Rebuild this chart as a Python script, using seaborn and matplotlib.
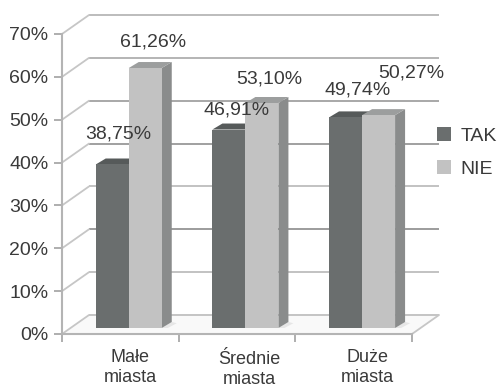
import matplotlib
matplotlib.use("Agg")
import matplotlib.pyplot as plt
from matplotlib.patches import Polygon
import pandas as pd
import seaborn as sns

cities = ["Małe\nmiasta", "Średnie\nmiasta", "Duże\nmiasta"]
tak = [38.75, 46.91, 49.74]
nie = [61.26, 53.10, 50.27]
series_names = ["TAK", "NIE"]
y_ticks = [0, 10, 20, 30, 40, 50, 60, 70]

W, H = 498, 388
sns.set_theme(style="white")
plt.rcParams["font.family"] = ["Liberation Sans", "DejaVu Sans"]
TEXT = "#3a3a3a"
FS = 14

fig = plt.figure(figsize=(W / 100, H / 100), dpi=100, facecolor="white")
ax = fig.add_axes([62 / W, (H - 334) / H, 350 / W, 300 / H])

df = pd.DataFrame({
    "miasto": cities * 2,
    "odp": [series_names[0]] * 3 + [series_names[1]] * 3,
    "v": tak + nie,
})
colors = {"TAK": "#6a6e6e", "NIE": "#c2c2c2"}
sns.barplot(data=df, x="miasto", y="v", hue="odp", hue_order=series_names,
            palette=colors, saturation=1, width=0.566, gap=0, dodge=True,
            linewidth=0, zorder=3, ax=ax)
ax.set_xlim(-0.5, 2.5)
ax.set_ylim(0, 70)
ax.set_xlabel("")
ax.set_ylabel("")
ax.patch.set_alpha(0)

# Unit sizes for the pseudo-3D projection
px_x = 3 / 350
px_y = 70 / 300
wall_dx, wall_dy = 27 * px_x, 19 * px_y
bar_dx, bar_dy = 10 * px_x, 6 * px_y
bar_base, bar_lift, bar_shift = 1.4, 0.8, 0.072

# Floor and back wall
ax.add_patch(Polygon([(-0.5, 0), (2.5, 0), (2.5 + wall_dx, wall_dy), (-0.5 + wall_dx, wall_dy)],
                     closed=True, fc="#f9f9f9", ec="none", zorder=0.5, clip_on=False))
wall_colors = {10: "#c2c2c2", 20: "#9c9c9c", 30: "#c2c2c2", 40: "#a0a0a0", 50: "#a8a8a8",
               60: "#b4b4b4", 70: "#bcbcbc", 0: "#c4c4c4"}
for t in y_ticks:
    ax.plot([-0.5 + wall_dx, 2.5 + wall_dx], [t + wall_dy] * 2, color=wall_colors[t],
            lw=1.4, zorder=1, clip_on=False, solid_capstyle="butt")
    ax.plot([-0.5, -0.5 + wall_dx], [t, t + wall_dy], color="#c6c6c6", lw=1.3,
            zorder=1, clip_on=False)
ax.plot([2.5, 2.5 + wall_dx], [0, wall_dy], color="#c6c6c6", lw=1.3, zorder=1, clip_on=False)

# Side and top faces for every bar
faces = {"TAK": ("#666a6a", "#565a5a"), "NIE": ("#8a8c8c", "#9c9e9e")}
z_by_series = {"TAK": 3, "NIE": 4}
for name, container in zip(series_names, ax.containers):
    side_c, top_c = faces[name]
    z = z_by_series[name]
    for bar in container:
        value = bar.get_height()
        bar.set_x(bar.get_x() + bar_shift)
        bar.set_y(bar_base)
        bar.set_height(value + bar_lift - bar_base)
        bar.set_zorder(z)
        x0, x1 = bar.get_x(), bar.get_x() + bar.get_width()
        top = value + bar_lift
        ax.add_patch(Polygon([(x1, bar_base), (x1 + bar_dx, bar_base + bar_dy),
                              (x1 + bar_dx, top + bar_dy), (x1, top)],
                             closed=True, fc=side_c, ec="none", zorder=z - 0.2))
        ax.add_patch(Polygon([(x0, top), (x1, top), (x1 + bar_dx, top + bar_dy),
                              (x0 + bar_dx, top + bar_dy)],
                             closed=True, fc=top_c, ec="none", zorder=z - 0.1))
        # Soft shadow on the floor beside the bar
        ax.add_patch(Polygon([(x1, bar_base), (x1 + bar_dx, bar_base + bar_dy),
                              (x1 + 1.5 * bar_dx, bar_base + 0.8 * bar_dy), (x1 + 0.6 * bar_dx, bar_base)],
                             closed=True, fc="#e6e6e6", ec="none", zorder=1.5))

# Value labels with decimal commas
label_offsets = {
    "TAK": [(6.5, 30), (7.5, 20), (12.5, 27)],
    "NIE": [(7.5, 26), (7.5, 24), (33, 42)],
}
for name, container, vals in zip(series_names, ax.containers, (tak, nie)):
    for bar, val, off in zip(container, vals, label_offsets[name]):
        ax.annotate(f"{val:.2f}%".replace(".", ","),
                    (bar.get_x() + bar.get_width() / 2, val + bar_lift),
                    xytext=off, textcoords="offset pixels", ha="center", va="center",
                    fontsize=FS, color=TEXT, zorder=6, annotation_clip=False)

# Axes frame
for s in ("top", "right"):
    ax.spines[s].set_visible(False)
for s in ("left", "bottom"):
    ax.spines[s].set_color("#b4b4b4")
    ax.spines[s].set_linewidth(1.5)
ax.set_yticks(y_ticks)
ax.set_yticklabels([f"{t}%" for t in y_ticks], fontsize=FS, color=TEXT)
ax.tick_params(axis="y", left=True, length=5.8, width=1.3, color="#a8a8a8", pad=4)
ax.set_xticks([-0.5, 0.5, 1.5, 2.5])
ax.set_xticklabels([])
ax.tick_params(axis="x", bottom=True, length=5.8, width=1.3, color="#a8a8a8")

# Category names sit under the bars rather than on the tick marks
label_dx = [10, 12, 14]
label_first = [-24, -26, -24]
label_second = [-44, -45, -44]
for i, (name, dx, y1, y2) in enumerate(zip(cities, label_dx, label_first, label_second)):
    first, second = name.split("\n")
    ax.annotate(first, (i, 0), xytext=(dx, y1), textcoords="offset pixels",
                ha="center", va="center", fontsize=13, color=TEXT, annotation_clip=False)
    ax.annotate(second, (i, 0), xytext=(dx, y2), textcoords="offset pixels",
                ha="center", va="center", fontsize=13, color=TEXT, annotation_clip=False)

leg = ax.legend(loc="upper left", bbox_to_anchor=(437 / W, 1 - 127 / H),
                bbox_transform=fig.transFigure, frameon=False, fontsize=FS,
                borderpad=0, borderaxespad=0, handlelength=0.72, handleheight=0.72,
                handletextpad=0.5, labelspacing=0.8, labelcolor=TEXT)
leg.set_zorder(7)

fig.savefig("out.png", dpi=100, facecolor="white")
